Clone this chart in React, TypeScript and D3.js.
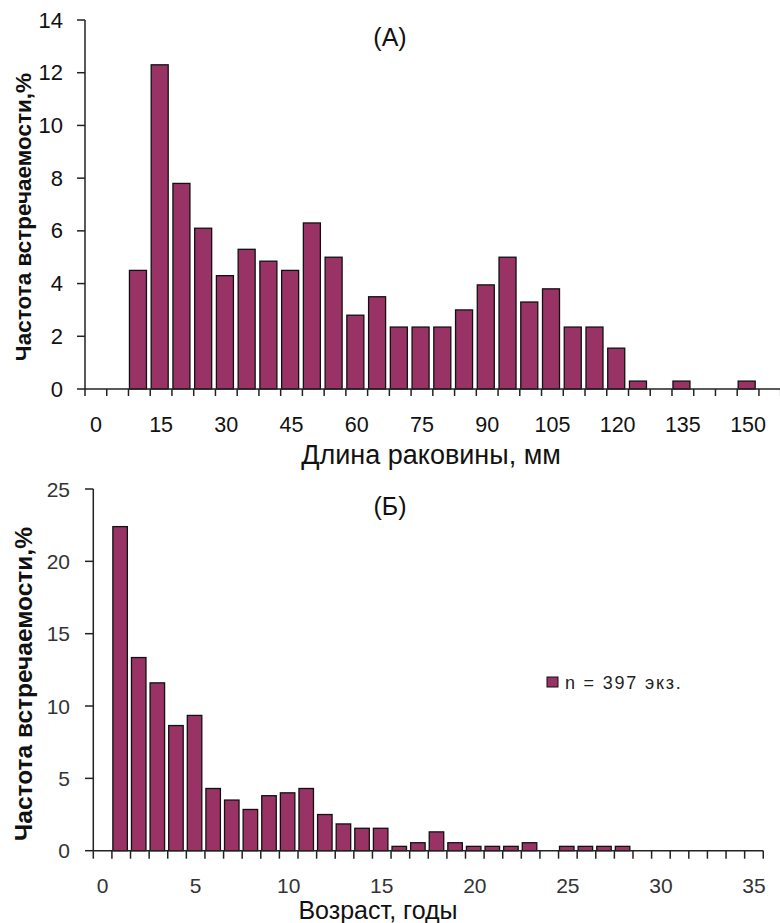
import React from "react";
import * as d3 from "d3";

// ---- Data (A): shell length distribution ----
const lengthCats = [0, 5, 10, 15, 20, 25, 30, 35, 40, 45, 50, 55, 60, 65, 70, 75, 80, 85, 90, 95, 100, 105, 110, 115, 120, 125, 130, 135, 140, 145, 150, 155];
const lengthFreq = [0, 0, 4.5, 12.3, 7.8, 6.1, 4.3, 5.3, 4.85, 4.5, 6.3, 5.0, 2.8, 3.5, 2.35, 2.35, 2.35, 3.0, 3.95, 5.0, 3.3, 3.8, 2.35, 2.35, 1.55, 0.3, 0, 0.3, 0, 0, 0.3, 0];
const lengthXLabels = [0, 15, 30, 45, 60, 75, 90, 105, 120, 135, 150];
const lengthYTicks = [0, 2, 4, 6, 8, 10, 12, 14];

// ---- Data (Б): age distribution ----
const ageCats = [0, 1, 2, 3, 4, 5, 6, 7, 8, 9, 10, 11, 12, 13, 14, 15, 16, 17, 18, 19, 20, 21, 22, 23, 24, 25, 26, 27, 28, 29, 30, 31, 32, 33, 34, 35];
const ageFreq = [0, 22.4, 13.35, 11.6, 8.65, 9.35, 4.3, 3.5, 2.85, 3.8, 4.0, 4.3, 2.5, 1.85, 1.55, 1.55, 0.3, 0.55, 1.3, 0.55, 0.3, 0.3, 0.3, 0.55, 0, 0.3, 0.3, 0.3, 0.3, 0, 0, 0, 0, 0, 0, 0];
const ageXLabels = [0, 5, 10, 15, 20, 25, 30, 35];
const ageYTicks = [0, 5, 10, 15, 20, 25];

const yTitle = "Частота встречаемости,%";
const titleA = "(А)";
const titleB = "(Б)";
const xTitleA = "Длина раковины, мм";
const xTitleB = "Возраст, годы";
const legendText = "n = 397 экз.";

const BAR = "#993366";
const FONT = "'Liberation Sans', Arial, sans-serif";

export default function App() {
  // Panel A scales
  const stepA = 21.74;
  const xA = d3.scaleBand<number>().domain(lengthCats).range([85, 85 + stepA * lengthCats.length]).padding(0);
  const yA = d3.scaleLinear().domain([0, 14]).range([389, 20]);
  const bwA = 17;
  const shiftA = -1.4;

  // Panel B scales
  const stepB = 18.61;
  const xB = d3.scaleBand<number>().domain(ageCats).range([93.3, 93.3 + stepB * ageCats.length]).padding(0);
  const yB = d3.scaleLinear().domain([0, 25]).range([850.7, 489]);
  const bwB = 14.5;
  const shiftB = -1.1;

  const bandEdgesA = lengthCats.map((c) => xA(c)!).concat([xA(lengthCats[lengthCats.length - 1])! + xA.bandwidth()]);
  const bandEdgesB = ageCats.map((c) => xB(c)!).concat([xB(ageCats[ageCats.length - 1])! + xB.bandwidth()]);

  return (
    <svg width={780} height={923} style={{ position: "absolute", left: 0, top: 0, background: "#fff" }} fontFamily={FONT}>
      <rect x={0} y={0} width={780} height={923} fill="#fff" />
      {/* ===== Panel A ===== */}
      <g>
        {lengthCats.map((c, i) => {
          const v = lengthFreq[i];
          if (v <= 0) return null;
          const x0 = xA(c)! + (xA.bandwidth() - bwA) / 2 + shiftA;
          return (
            <rect key={c} x={x0} y={yA(v)} width={bwA} height={yA(0) - yA(v)} fill={BAR} stroke="#111" strokeWidth={1.3} />
          );
        })}
        {/* y axis */}
        <line x1={85} x2={85} y1={yA(14)} y2={yA(0)} stroke="#222" strokeWidth={1.5} />
        {lengthYTicks.map((t) => (
          <g key={t}>
            <line x1={77} x2={85} y1={yA(t)} y2={yA(t)} stroke="#222" strokeWidth={1.5} />
            <text x={63} y={yA(t)} textAnchor="end" dominantBaseline="central" fontSize={22} fill="#111">{t}</text>
          </g>
        ))}
        {/* x axis */}
        <line x1={85} x2={780} y1={yA(0)} y2={yA(0)} stroke="#222" strokeWidth={1.5} />
        {bandEdgesA.map((e, i) => (
          <line key={i} x1={e} x2={e} y1={yA(0)} y2={yA(0) + 7} stroke="#222" strokeWidth={1.5} />
        ))}
        {lengthXLabels.map((t) => (
          <text key={t} x={xA(t)! + xA.bandwidth() / 2} y={425} textAnchor="middle" dominantBaseline="central" fontSize={21.5} fill="#111">{t}</text>
        ))}
        <text x={431} y={463.5} textAnchor="middle" fontSize={27} fill="#111">{xTitleA}</text>
        <text x={390} y={46} textAnchor="middle" fontSize={25} fill="#111">{titleA}</text>
        <text transform={`translate(31, 217) rotate(-90)`} textAnchor="middle" fontSize={22.5} fontWeight="bold" fill="#111">{yTitle}</text>
      </g>

      {/* ===== Panel B ===== */}
      <g>
        {ageCats.map((c, i) => {
          const v = ageFreq[i];
          if (v <= 0) return null;
          const x0 = xB(c)! + (xB.bandwidth() - bwB) / 2 + shiftB;
          return (
            <rect key={c} x={x0} y={yB(v)} width={bwB} height={yB(0) - yB(v)} fill={BAR} stroke="#111" strokeWidth={1.3} />
          );
        })}
        <line x1={93.3} x2={93.3} y1={yB(25)} y2={yB(0)} stroke="#222" strokeWidth={1.5} />
        {ageYTicks.map((t) => (
          <g key={t}>
            <line x1={85} x2={93.3} y1={yB(t)} y2={yB(t)} stroke="#222" strokeWidth={1.5} />
            <text x={70} y={yB(t)} textAnchor="end" dominantBaseline="central" fontSize={21} fill="#333">{t}</text>
          </g>
        ))}
        <line x1={93.3} x2={bandEdgesB[bandEdgesB.length - 1]} y1={yB(0)} y2={yB(0)} stroke="#222" strokeWidth={1.5} />
        {bandEdgesB.map((e, i) => (
          <line key={i} x1={e} x2={e} y1={yB(0)} y2={yB(0) + 8} stroke="#222" strokeWidth={1.5} />
        ))}
        {ageXLabels.map((t) => (
          <text key={t} x={xB(t)! + xB.bandwidth() / 2} y={885.5} textAnchor="middle" dominantBaseline="central" fontSize={21} fill="#333">{t}</text>
        ))}
        <text x={378} y={919} textAnchor="middle" fontSize={25} fill="#111">{xTitleB}</text>
        <text x={390} y={515} textAnchor="middle" fontSize={25} fill="#111">{titleB}</text>
        <text transform={`translate(32, 684) rotate(-90)`} textAnchor="middle" fontSize={24.5} fontWeight="bold" fill="#111">{yTitle}</text>
        {/* legend */}
        <rect x={547} y={677} width={11} height={10} fill={BAR} stroke="#111" strokeWidth={1} />
        <text x={565} y={683} dominantBaseline="central" fontSize={18} letterSpacing={1.8} fill="#222">{legendText}</text>
      </g>
    </svg>
  );
}
